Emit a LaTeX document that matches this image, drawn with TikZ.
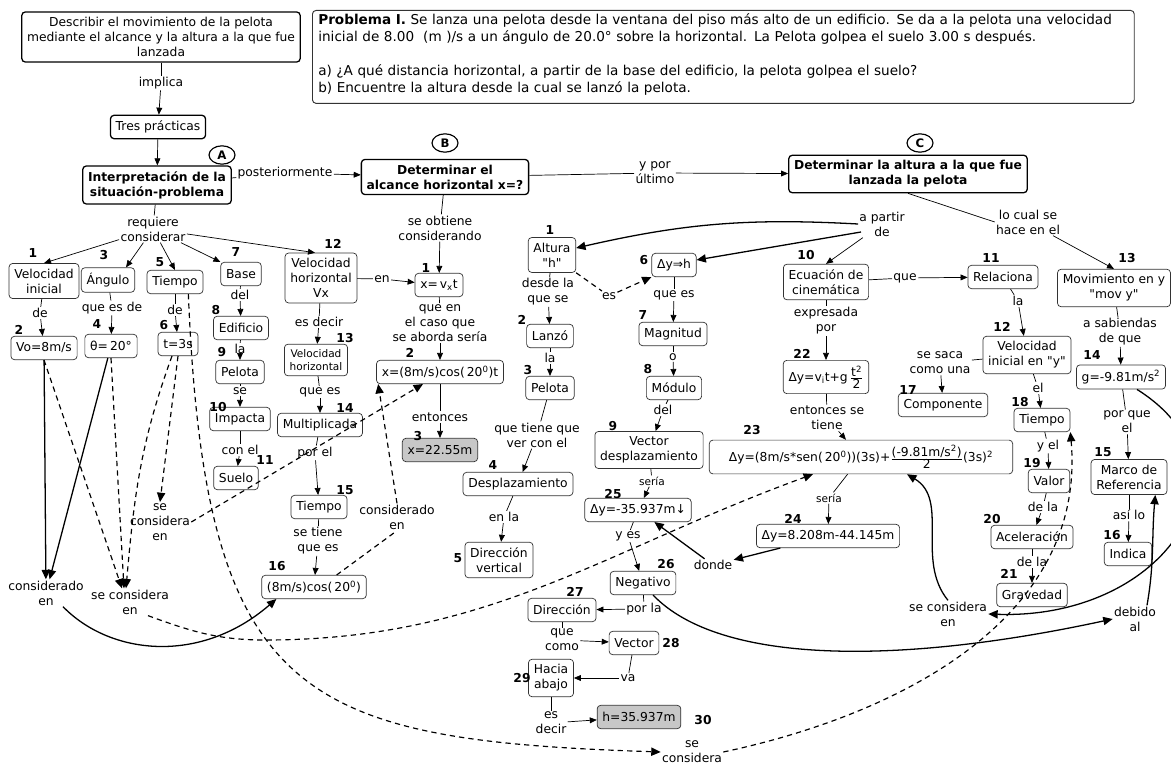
\documentclass[tikz,border=0pt]{standalone}
\usepackage{fontspec}
\setmainfont{DejaVu Sans}[Ligatures=TeXOff]
\usetikzlibrary{calc,arrows.meta,shapes.geometric}

\begin{document}
\begin{tikzpicture}[x=0.03cm, y=-0.03cm, font=\fontsize{10.5}{12.8}\selectfont,
  concept/.style={draw=black!80, line width=0.6pt, rounded corners=3pt, align=center, fill=white,
                  inner xsep=4.5pt, inner ysep=4.5pt, minimum height=0.7cm},
  hub/.style={concept, draw=black, line width=1.1pt},
  headline/.style={hub, font=\fontsize{10.5}{12.8}\selectfont\bfseries},
  result/.style={concept, fill=black!22},
  small/.style={font=\fontsize{9}{11}\selectfont},
  link/.style={align=center, inner sep=1pt},
  num/.style={font=\fontsize{10.5}{12}\selectfont\bfseries, inner sep=0pt},
  tag/.style={ellipse, draw, line width=1pt, font=\bfseries, inner sep=0pt, minimum width=0.78cm, minimum height=0.55cm},
  arr/.style={-{Triangle[length=6pt,width=5pt]}, line width=0.6pt},
  xarr/.style={-{Triangle[length=8pt,width=7pt]}, line width=1.1pt},
  darr/.style={-{Triangle[length=8pt,width=7pt]}, line width=1pt, dash pattern=on 4.5pt off 3.5pt},
  dline/.style={line width=1pt, dash pattern=on 4.5pt off 3.5pt}]
\useasboundingbox (0,0) rectangle (1171,766);
%% statement
\node[hub] (goal) at (161,37)
  {Describir el movimiento de la pelota\\mediante el alcance y la altura a la que fue\\lanzada};
\node[draw=black!80, line width=0.8pt, rounded corners=3pt, align=left, anchor=north west,
      text width=24.3cm, inner xsep=5pt, inner ysep=3pt, font=\fontsize{11.6}{14.5}\selectfont] (prob) at (312,10)
  {\textbf{Problema I.} Se lanza una pelota desde la ventana del piso más alto de un edificio. Se da a la pelota una velocidad\\
   inicial de 8.00~~(m~)/s a un ángulo de 20.0° sobre la horizontal. La Pelota golpea el suelo 3.00 s después.\\[14.5pt]
   a) ¿A qué distancia horizontal, a partir de la base del edificio, la pelota golpea el suelo?\\
   b) Encuentre la altura desde la cual se lanzó la pelota.\rule[-6pt]{0pt}{6pt}};
\node[link] (lImplica) at (161,83) {implica};
\node[hub] (tres) at (158,127) {Tres prácticas};
%% part A
\node[tag] (tagA) at (222,155) {A};
\node[headline] (interp) at (157,185) {Interpretación de la\\situación-problema};
\node[link] (lPost) at (285,173) {posteriormente};
\node[link] (lReq) at (153,229) {requiere\\considerar};
\node[concept] (a1) at (44,281) {Velocidad\\inicial};
\node[link] (lDe1) at (40,313) {de};
\node[concept] (a2) at (44,348) {Vo=8m/s};
\node[concept] (a3) at (108,280) {Ángulo};
\node[link] (lQue) at (112,308) {que es de};
\node[concept] (a4) at (111,346) {θ=\,20°};
\node[concept] (a5) at (175,282) {Tiempo};
\node[link] (lDe2) at (175,310) {de};
\node[concept] (a6) at (178,344) {t=3s};
\node[concept] (a7) at (241,274) {Base};
\node[link] (lDel) at (240,295) {del};
\node[concept] (a8) at (241,328) {Edificio};
\node[link] (lLa) at (240,349) {la};
\node[concept] (a9) at (240,372) {Pelota};
\node[link] (lSe) at (240,391) {se};
\node[concept] (a10) at (240,419) {Impacta};
\node[link] (lCon) at (240,450) {con el};
\node[concept] (a11) at (236,478) {Suelo};
\node[concept] (a12) at (321,278) {Velocidad\\horizontal\\Vx};
\node[link] (lEn) at (382,279) {en};
\node[link] (lEsDecir) at (319,322) {es decir};
\node[concept, small] (a13) at (316,360) {Velocidad\\horizontal};
\node[link] (lQueEs) at (320,392) {que es};
\node[concept] (a14) at (320,425) {Multiplicada};
\node[link] (lPorEl) at (315,453) {por el};
\node[concept] (a15) at (319,507) {Tiempo};
\node[link] (lSeTiene) at (318,541) {se tiene\\que es};
\node[concept] (a16) at (314,587) {(8m/s)cos(\,20\textsuperscript{0})};
\node[link] (lConsEn1) at (46,593) {considerado\\en};
\node[link] (lSeCons1) at (160,522) {se\\considera\\en};
\node[link] (lSeCons2) at (130,602) {se considera\\en};
\node[link] (lConsEn2) at (397,517) {considerado\\en};
\foreach \t/\px/\py in {1/33/253, 2/19/330, 3/104/255, 4/97/324, 5/160/262, 6/164/325, 7/236/252, 8/216/310,
                        9/222/352, 10/218/407, 11/265/460, 12/333/244, 13/345/338, 14/345/408, 15/345/490, 16/277/566}
  \node[num] (na\t) at (\px,\py) {\t};
%% part B
\node[tag] (tagB) at (445,143) {B};
\node[headline] (alc) at (445,177) {Determinar el\\alcance horizontal x=?};
\node[link] (lObt) at (440,228) {se obtiene\\considerando};
\node[concept] (b1) at (439,285) {x=\,v\textsubscript{x}t};
\node[link] (lCaso) at (440,323) {que en\\el caso que\\se aborda sería};
\node[concept] (b2) at (440,372) {x=(8m/s)cos(\,20\textsuperscript{0})t};
\node[link] (lEntonces) at (440,417) {entonces};
\node[result] (b3) at (440,450) {x=22.55m};
\node[link] (lUltimo) at (655,173) {y por\\último};
\foreach \t/\px/\py in {1/426/268, 2/410/353, 3/418/436}
  \node[num] (nb\t) at (\px,\py) {\t};
%% part C
\node[tag] (tagC) at (920,143) {C};
\node[headline] (alt) at (908,174) {Determinar la altura a la que fue\\lanzada la pelota};
\node[link] (lPartir) at (882,224) {a partir\\de};
\node[link] (lCual) at (1028,222) {lo cual se\\hace en el};
\node[concept] (c1) at (552,255) {Altura\\"h"};
\node[link] (lDesde) at (548,292) {desde la\\que se};
\node[concept] (c2) at (550,336) {Lanzó};
\node[link] (lLa2) at (550,358) {la};
\node[concept] (c3) at (550,388) {Pelota};
\node[link] (lTiene) at (537,435) {que tiene que\\ver con el};
\node[concept] (c4) at (518,484) {Desplazamiento};
\node[link] (lEnLa) at (504,517) {en la};
\node[concept] (c5) at (499,560) {Dirección\\vertical};
\node[link] (lEs) at (609,296) {es};
\node[concept] (c6) at (674,265) {Δy⇒h};
\node[link] (lQueEs2) at (674,295) {que es};
\node[concept] (c7) at (673,334) {Magnitud};
\node[link] (lO) at (673,357) {o};
\node[concept] (c8) at (674,388) {Módulo};
\node[link] (lDel2) at (663,410) {del};
\node[concept] (c9) at (649,450) {Vector\\desplazamiento};
\node[link, small] (lSeria1) at (652,481) {sería};
\node[concept] (c25) at (638,510) {Δy=-35.937m↓};
\node[link] (lYes) at (628,536) {y es};
\node[concept] (c26) at (643,583) {Negativo};
\node[link] (lPorLa) at (644,609) {por la};
\node[concept] (c27) at (562,610) {Dirección};
\node[link] (lComo) at (562,640) {que\\como};
\node[concept] (c28) at (634,643) {Vector};
\node[link] (lVa) at (628,678) {va};
\node[concept] (c29) at (551,678) {Hacia\\abajo};
\node[link] (lDecir) at (551,723) {es\\decir};
\node[result] (c30) at (639,717) {h=35.937m};
\node[link] (lSeCons3) at (692,752) {se\\considera};
\node[concept] (c10) at (826,282) {Ecuación de\\cinemática};
\node[link] (lQue2) at (905,278) {que};
\node[concept] (c11) at (1003,277) {Relaciona};
\node[link] (lLa3) at (1018,301) {la};
\node[concept] (c12) at (1027,355) {Velocidad\\inicial en "y"};
\node[link] (lSaca) at (940,363) {se saca\\como una};
\node[concept] (c17) at (943,405) {Componente};
\node[link] (lEl) at (1038,388) {el};
\node[concept] (c18) at (1042,420) {Tiempo};
\node[link] (lYel) at (1048,446) {y el};
\node[concept] (c19) at (1049,481) {Valor};
\node[link] (lDeLa1) at (1043,507) {de la};
\node[concept] (c20) at (1032,537) {Aceleración};
\node[link] (lDeLa2) at (1032,562) {de la};
\node[concept] (c21) at (1032,595) {Gravedad};
\node[concept] (c13) at (1114,288) {Movimiento en y\\"mov y"};
\node[link] (lSab) at (1120,332) {a sabiendas\\de que};
\node[concept] (c14) at (1121,377) {g=-9.81m/s\textsuperscript{2}};
\node[link] (lPorQue) at (1127,422) {por que\\el};
\node[concept] (c15) at (1129,477) {Marco de\\Referencia};
\node[link] (lAsi) at (1129,515) {así lo};
\node[concept] (c16) at (1128,554) {Indica};
\node[link] (lExpr) at (826,321) {expresada\\por};
\node[concept] (c22) at (826,377) {Δy=v\textsubscript{i}t+g\,$\frac{\mbox{t\textsuperscript{2}}}{\mbox{2}}$};
\node[link] (lTieneC) at (827,418) {entonces se\\tiene};
\node[concept, minimum width=9.1cm] (c23) at (861,457)
  {Δy=(8m/s*sen(\,20\textsuperscript{0}))(3s)+$\frac{\mbox{(-9.81m/s\textsuperscript{2})}}{\mbox{2}}$(3s)\textsuperscript{2}};
\node[link, small] (lSeria2) at (829,498) {sería};
\node[concept] (c24) at (828,536) {Δy=8.208m-44.145m};
\node[link] (lDonde) at (713,565) {donde};
\node[link] (lSeCons4) at (948,614) {se considera\\en};
\node[link] (lDebido) at (1135,619) {debido\\al};
\foreach \t/\px/\py in {1/550/230, 2/522/320, 3/528/370, 4/493/465, 5/458/558, 6/644/260, 7/643/315, 8/648/369,
                        9/613/426, 10/806/255, 11/991/258, 12/1002/327, 13/1127/258, 14/1092/355, 15/1103/452,
                        16/1112/535, 17/908/390, 18/1020/402, 19/1032/463, 20/992/519, 21/1009/574, 22/802/354,
                        23/752/430, 24/793/519, 25/613/494, 26/666/564, 27/575/592, 28/671/643, 29/522/678, 30/703/720}
  \node[num] (nc\t) at (\px,\py) {\t};
%% links
\foreach \a/\b in {goal/lImplica, interp/lPost, interp/lReq, a1/lDe1, a3/lQue, a5/lDe2, a7/lDel, a8/lLa, a9/lSe,
                   a10/lCon, a12/lEn, a12/lEsDecir, a13/lQueEs, a14/lPorEl, a15/lSeTiene, alc/lObt, b1/lCaso,
                   b2/lEntonces, alc/lUltimo, c1/lDesde, c2/lLa2, c3/lTiene, c4/lEnLa, c6/lQueEs2, c7/lO, c8/lDel2,
                   c9/lSeria1, c25/lYes, c26/lPorLa, c27/lComo, c28/lVa, c29/lDecir, c10/lQue2, c11/lLa3, c12/lSaca,
                   c12/lEl, c18/lYel, c19/lDeLa1, c20/lDeLa2, c13/lSab, c14/lPorQue, c15/lAsi, c10/lExpr,
                   c22/lTieneC, c23/lSeria2}
  \draw[line width=0.6pt] (\a) -- (\b);
\foreach \a/\b in {lImplica/tres, tres/interp, lPost/alc, lDe1/a2, lQue/a4, lDe2/a6, lDel/a8, lLa/a9, lSe/a10,
                   lCon/a11, lEn/b1, lEsDecir/a13, lQueEs/a14, lPorEl/a15, lSeTiene/a16, lObt/b1, lCaso/b2,
                   lEntonces/b3, lUltimo/alt, lDesde/c2, lLa2/c3, lTiene/c4, lEnLa/c5, lQueEs2/c7, lO/c8, lDel2/c9,
                   lSeria1/c25, lYes/c26, lPorLa/c27, lComo/c28, lVa/c29, lDecir/c30, lQue2/c11, lLa3/c12,
                   lSaca/c17, lEl/c18, lYel/c19, lDeLa1/c20, lDeLa2/c21, lSab/c14, lPorQue/c15, lAsi/c16,
                   lExpr/c22, lTieneC/c23, lSeria2/c24}
  \draw[arr] (\a) -- (\b);
\draw[arr] (lReq) -- (a1.north);
\draw[arr] (lReq) -- ($(a3.north)+(18,0)$);
\draw[arr] (lReq) -- (a5.north);
\draw[arr] (lReq) -- (a7.north west);
\draw[arr] (lReq) -- ($(a12.north)+(-6,0)$);
\draw[line width=0.6pt] (alt.south) -- (lCual.west);
\draw[arr] (lCual) -- (c13.north);
\draw[arr] (lPartir) -- (c10.north);
%% cross links, part A
\draw[xarr] (a2) -- (lConsEn1);
\draw[xarr] (a4) -- (lConsEn1);
\draw[xarr] ($(lConsEn1.south)+(17,0)$) .. controls (110,655) and (200,665) .. ($(a16.south west)+(15,0)$);
\draw[darr] (a2.south) -- ($(lSeCons2.north)+(-8,0)$);
\draw[darr] (a4.south) -- ($(lSeCons2.north)+(-6,0)$);
\draw[darr] ($(a6.south)+(-6,0)$) to[out=250,in=85] ($(lSeCons2.north)+(-4,0)$);
\draw[darr] (a6.south) -- (lSeCons1.north);
\draw[darr] (lSeCons1.east) -- ($(b2.south)+(-17,0)$);
\draw[dline] ($(a16.north east)+(-30,0)$) -- (lConsEn2.south);
\draw[darr] (lConsEn2.north) -- ($(b2.south west)+(2,0)$);
\draw[darr] ($(lSeCons2.south)+(18,0)$) to[out=-20,in=180] (265,640) to[out=0,in=200] ($(c23.south)+(-48,0)$);
\draw[darr] ($(a5.south east)+(-15,0)$) .. controls (205,700) and (300,740) .. (lSeCons3.west);
%% cross links, part C
\draw[xarr] (lPartir.west) to[bend right=8] ($(c1.east)+(0,-7)$);
\draw[xarr] ($(lPartir.west)+(3,8)$) -- ($(c6.east)+(0,-5)$);
\draw[dline] (c1.south east) -- (lEs);
\draw[darr] (lEs) -- (c6.south west);
\draw[darr] (lSeCons3.east) to[out=12,in=-85] (c18.south east);
\draw[xarr] (c24) -- (lDonde);
\draw[xarr] (lDonde) -- (c25);
\draw[xarr] ($(c14.south)+(16,0)$) .. controls (1265,470) and (1165,620) .. (lSeCons4.east);
\draw[xarr] (lSeCons4.north) .. controls (915,560) and (950,500) .. ($(c23.south)+(46,0)$);
\draw[xarr] ($(c26.south)+(10,0)$) .. controls (720,665) and (900,665) .. (lDebido.west);
\draw[xarr] ($(lDebido.north)+(12,0)$) to[out=80,in=-95] ($(c15.south east)+(-12,0)$);
\end{tikzpicture}
\end{document}
